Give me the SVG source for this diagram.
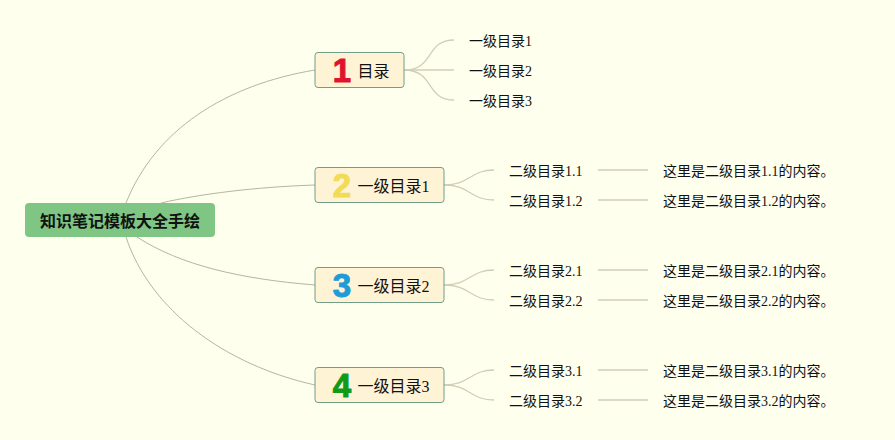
<svg xmlns="http://www.w3.org/2000/svg" width="895" height="440" viewBox="0 0 895 440">
<style>
text{font-family:"Liberation Serif","Noto Sans CJK SC",serif;fill:#111}
.t{font-size:14px}
.m{font-size:16px}
.r{font-size:16px;font-weight:700;font-family:"Noto Sans CJK SC",sans-serif}
.n{font-size:33px;font-weight:700;font-family:"Liberation Sans",sans-serif;text-anchor:middle;stroke-width:1;stroke-linejoin:round}
.b{fill:#fff3d6;stroke:#6f9f86;stroke-width:1}
.c1{fill:none;stroke:#b5b5a0;stroke-width:1}
.c2{fill:none;stroke:#cfcfb8;stroke-width:1.3}
</style>
<rect width="895" height="440" fill="#ffffee"/>
<g id="connectors">
<path class="c1" d="M126 203C155 130 225 85 315 70"/>
<path class="c1" d="M161 203C200 194 255 187 315 185"/>
<path class="c1" d="M137 237C180 265 240 279 315 285"/>
<path class="c1" d="M126 237C150 310 225 365 315 385"/>
<path class="c2" d="M404 70C435 70 425 40 454 40"/>
<path class="c2" d="M404 70H454"/>
<path class="c2" d="M404 70C435 70 425 100 454 100"/>
<path class="c2" d="M444 185C470 185 470 170 494 170"/>
<path class="c2" d="M444 185C470 185 470 200 494 200"/>
<path class="c2" d="M444 285C470 285 470 270 494 270"/>
<path class="c2" d="M444 285C470 285 470 300 494 300"/>
<path class="c2" d="M444 385C470 385 470 370 494 370"/>
<path class="c2" d="M444 385C470 385 470 400 494 400"/>
<path class="c2" d="M598 170H648M598 200H648M598 270H648M598 300H648M598 370H648M598 400H648"/>
</g>
<g id="root"><rect x="25" y="203" width="190" height="34" rx="4" fill="#7fc583"/><text class="r" x="40" y="227">知识笔记模板大全手绘</text></g>
<g id="n1"><rect class="b" x="315" y="52.500" width="89" height="35" rx="3"/><text class="n" x="342" y="82" style="fill:#e0132d;stroke:#e0132d">1</text><text class="m" x="357.500" y="77">目录</text></g>
<g id="n2"><rect class="b" x="315" y="167.500" width="129" height="35" rx="3"/><text class="n" x="342" y="197" style="fill:#f2dc55;stroke:#f2dc55">2</text><text class="m" x="357.500" y="192">一级目录1</text></g>
<g id="n3"><rect class="b" x="315" y="267.500" width="129" height="35" rx="3"/><text class="n" x="342" y="297" style="fill:#1f9bd8;stroke:#1f9bd8">3</text><text class="m" x="357.500" y="292">一级目录2</text></g>
<g id="n4"><rect class="b" x="315" y="367.500" width="129" height="35" rx="3"/><text class="n" x="342" y="397" style="fill:#109a1c;stroke:#109a1c">4</text><text class="m" x="357.500" y="392">一级目录3</text></g>
<g id="l1"><text class="t" x="469" y="46">一级目录1</text></g>
<g id="l2"><text class="t" x="469" y="76">一级目录2</text></g>
<g id="l3"><text class="t" x="469" y="106">一级目录3</text></g>
<g id="s11"><text class="t" x="509" y="176">二级目录1.1</text></g>
<g id="s12"><text class="t" x="509" y="206">二级目录1.2</text></g>
<g id="s21"><text class="t" x="509" y="276">二级目录2.1</text></g>
<g id="s22"><text class="t" x="509" y="306">二级目录2.2</text></g>
<g id="s31"><text class="t" x="509" y="376">二级目录3.1</text></g>
<g id="s32"><text class="t" x="509" y="406">二级目录3.2</text></g>
<g id="d11"><text class="t" x="663" y="176">这里是二级目录1.1的内容。</text></g>
<g id="d12"><text class="t" x="663" y="206">这里是二级目录1.2的内容。</text></g>
<g id="d21"><text class="t" x="663" y="276">这里是二级目录2.1的内容。</text></g>
<g id="d22"><text class="t" x="663" y="306">这里是二级目录2.2的内容。</text></g>
<g id="d31"><text class="t" x="663" y="376">这里是二级目录3.1的内容。</text></g>
<g id="d32"><text class="t" x="663" y="406">这里是二级目录3.2的内容。</text></g>
</svg>
